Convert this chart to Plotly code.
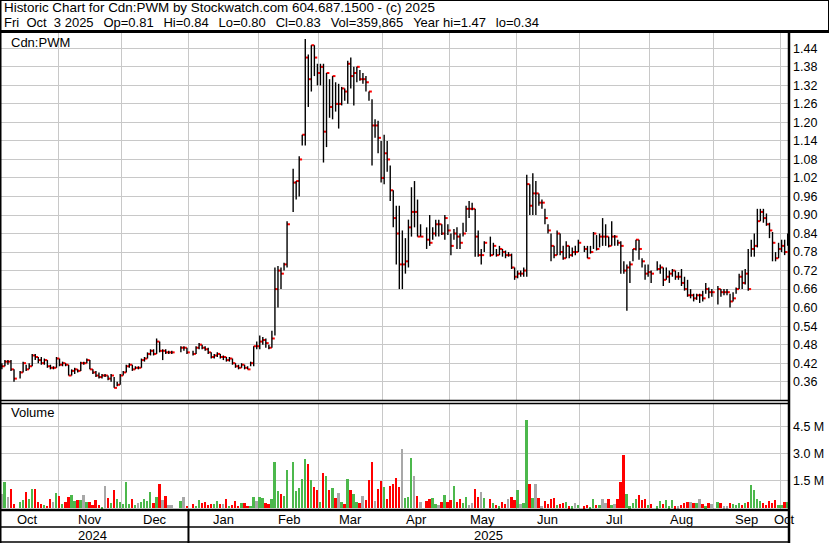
import pandas as pd
import plotly.graph_objects as go

# ---------------- data (one slot per weekday, None = no trading) ----------------
start_date = "2024-10-04"
end_date = "2025-10-03"

close = [0.41,0.41,0.425,0.425,0.40,0.37,None,0.39,0.42,0.40,
         0.41,0.445,0.44,0.43,0.42,0.43,0.41,0.405,0.405,0.435,
         0.415,0.42,0.415,0.38,0.395,0.40,0.395,0.42,0.42,0.43,
         0.40,0.39,0.38,0.375,0.38,0.38,0.37,0.38,0.34,0.35,
         0.38,0.39,0.41,0.415,0.40,0.405,0.405,0.43,0.435,0.45,
         0.46,0.45,0.49,0.46,0.46,0.455,0.455,0.455,None,None,
         0.47,0.47,0.455,None,0.45,0.47,0.48,0.47,0.465,0.455,
         0.44,0.445,0.45,0.44,0.44,0.43,0.435,0.42,0.41,0.405,
         0.415,0.405,0.40,0.42,0.475,0.475,0.49,0.495,0.485,0.47,
         0.50,0.66,0.72,0.71,0.74,0.87,None,1.005,1.01,1.08,
         1.16,1.41,1.34,1.45,1.41,1.36,1.38,1.17,1.36,1.25,
         1.35,1.26,1.26,1.31,1.30,1.39,1.35,1.36,1.38,1.34,
         1.34,1.33,1.30,1.19,1.19,1.15,1.02,1.10,1.08,0.98,
         0.89,0.84,0.74,0.74,0.75,0.86,0.91,0.91,0.83,0.83,
         None,0.82,0.81,0.84,0.87,0.87,0.84,0.89,0.85,0.80,
         0.84,0.83,0.81,0.84,0.92,0.92,0.92,0.83,0.77,0.77,
         0.81,None,0.77,0.80,0.77,0.79,0.78,0.77,0.77,0.73,
         0.70,0.71,0.71,0.72,1.00,0.93,0.97,0.97,0.94,0.94,
         0.89,0.85,0.80,0.77,0.84,0.78,0.76,0.80,0.77,0.78,
         0.78,0.81,None,0.79,0.76,0.78,0.84,0.79,0.83,0.83,
         0.83,0.80,0.83,0.83,0.81,0.80,0.72,0.73,0.74,0.79,
         0.82,0.79,0.75,0.71,0.715,0.71,None,0.725,0.73,0.69,
         0.70,0.71,0.72,0.70,0.70,0.68,0.66,0.64,0.64,0.63,
         0.64,0.64,0.63,0.66,0.65,0.65,None,0.66,0.65,0.65,
         0.65,0.62,0.63,0.66,0.70,0.68,0.71,0.66,0.79,0.80,
         0.88,0.91,0.89,0.87,0.85,0.81,0.76,0.79,0.80,0.78,
         0.83]

high = [0.42,0.42,0.43,0.43,0.43,0.40,None,0.395,0.425,0.415,
        0.42,0.45,0.45,0.44,0.44,0.435,0.43,0.415,0.41,0.44,
        0.435,0.425,0.42,0.415,0.40,0.405,0.40,0.425,0.425,0.435,
        0.43,0.40,0.395,0.39,0.385,0.385,0.38,0.385,0.375,0.36,
        0.385,0.395,0.415,0.42,0.415,0.41,0.41,0.435,0.44,0.455,
        0.465,0.465,0.50,0.49,0.465,0.465,0.46,0.46,None,None,
        0.475,0.475,0.47,None,0.46,0.475,0.485,0.48,0.475,0.47,
        0.455,0.45,0.455,0.45,0.445,0.44,0.44,0.435,0.42,0.415,
        0.42,0.415,0.41,0.425,0.475,0.49,0.51,0.505,0.50,0.48,
        0.525,0.73,0.735,0.73,0.745,0.88,None,1.05,1.01,1.09,
        1.16,1.47,1.42,1.45,1.45,1.39,1.39,1.39,1.36,1.34,
        1.35,1.33,1.325,1.315,1.31,1.40,1.41,1.38,1.38,1.37,
        1.36,1.35,1.30,1.275,1.21,1.205,1.14,1.16,1.14,1.06,
        0.98,0.93,0.93,0.85,0.825,0.885,0.99,1.01,0.95,0.87,
        None,0.86,0.90,0.86,0.885,0.885,0.87,0.90,0.87,0.84,
        0.855,0.86,0.84,0.875,0.93,0.945,0.94,0.92,0.85,0.79,
        0.815,None,0.83,0.81,0.79,0.80,0.79,0.785,0.78,0.775,
        0.73,0.72,0.72,0.73,1.03,1.00,1.035,1.01,0.97,0.95,
        0.92,0.87,0.84,0.80,0.85,0.84,0.80,0.815,0.80,0.795,
        0.80,0.82,None,0.80,0.80,0.80,0.845,0.835,0.84,0.89,
        0.87,0.83,0.88,0.835,0.82,0.815,0.75,0.74,0.75,0.79,
        0.82,0.82,0.76,0.74,0.74,0.72,None,0.75,0.74,0.73,
        0.73,0.72,0.725,0.72,0.715,0.725,0.70,0.69,0.66,0.645,
        0.645,0.645,0.655,0.68,0.665,0.66,None,0.67,0.66,0.66,
        0.66,0.645,0.65,0.665,0.71,0.72,0.725,0.79,0.82,0.84,
        0.92,0.92,0.92,0.905,0.875,0.845,0.78,0.81,0.82,0.82,
        0.84]

low = [0.40,0.40,0.41,0.415,0.395,0.36,None,0.37,0.39,0.395,
       0.40,0.41,0.43,0.42,0.415,0.415,0.405,0.40,0.40,0.405,
       0.41,0.41,0.41,0.38,0.38,0.385,0.39,0.395,0.415,0.42,
       0.40,0.385,0.375,0.37,0.37,0.375,0.365,0.36,0.34,0.345,
       0.35,0.38,0.39,0.405,0.395,0.40,0.40,0.405,0.425,0.435,
       0.445,0.445,0.45,0.455,0.43,0.45,0.45,0.45,None,None,
       0.455,0.46,0.45,None,0.445,0.45,0.465,0.465,0.46,0.45,
       0.435,0.435,0.44,0.435,0.43,0.425,0.425,0.415,0.405,0.40,
       0.405,0.40,0.40,0.41,0.41,0.465,0.465,0.48,0.47,0.465,
       0.47,0.51,0.60,0.66,0.72,0.73,None,0.91,0.95,0.96,
       1.125,1.125,1.25,1.30,1.35,1.32,1.32,1.07,1.12,1.215,
       1.21,1.235,1.18,1.255,1.27,1.26,1.31,1.255,1.33,1.335,
       1.325,1.30,1.27,1.06,1.15,1.10,1.005,1.00,1.04,0.945,
       0.86,0.74,0.66,0.66,0.71,0.73,0.83,0.86,0.83,0.83,
       None,0.79,0.80,0.82,0.83,0.83,0.835,0.82,0.835,0.77,
       0.82,0.79,0.79,0.83,0.845,0.89,0.915,0.765,0.765,0.74,
       0.78,None,0.765,0.77,0.765,0.77,0.765,0.76,0.765,0.725,
       0.69,0.695,0.70,0.70,0.70,0.90,0.90,0.90,0.93,0.92,
       0.87,0.84,0.75,0.76,0.77,0.77,0.755,0.76,0.76,0.765,
       0.77,0.78,None,0.78,0.76,0.775,0.79,0.785,0.795,0.80,
       0.80,0.795,0.80,0.80,0.80,0.71,0.71,0.59,0.68,0.75,
       0.785,0.755,0.73,0.69,0.70,0.68,None,0.72,0.71,0.67,
       0.69,0.68,0.70,0.69,0.69,0.67,0.655,0.635,0.63,0.62,
       0.625,0.615,0.62,0.645,0.63,0.635,None,0.61,0.635,0.64,
       0.64,0.60,0.62,0.645,0.66,0.66,0.675,0.655,0.765,0.765,
       0.795,0.88,0.875,0.865,0.825,0.75,0.75,0.76,0.78,0.77,
       0.80]

volume_m = [0.70,0.78,1.44,0.59,1.06,0.22,None,0.35,0.44,0.89,
            0.50,1.06,1.06,0.33,0.22,0.15,0.12,0.50,0.33,0.83,
            0.67,0.22,0.33,0.61,0.72,0.39,0.44,0.44,0.72,0.33,
            0.33,0.17,0.44,0.17,0.06,1.22,0.56,0.28,1.00,0.50,
            0.33,0.22,1.44,0.22,0.50,0.17,0.28,0.33,0.50,0.39,
            0.89,0.28,0.61,1.33,0.44,0.67,0.17,0.17,None,None,
            0.39,0.61,0.12,None,0.22,0.12,0.44,0.28,0.33,0.17,
            0.22,0.22,0.39,0.22,0.22,0.50,0.12,0.17,0.39,0.12,
            0.28,0.28,0.12,0.12,0.61,0.39,0.61,0.56,0.28,0.22,
            0.50,2.56,0.94,0.78,0.67,2.11,None,2.56,0.94,1.11,
            1.61,2.72,2.44,1.56,1.17,1.00,0.33,1.94,1.78,1.00,
            1.11,0.56,0.83,0.33,0.22,1.61,1.00,0.78,0.33,0.28,
            0.67,0.44,1.56,2.56,0.39,1.06,1.50,1.17,0.50,1.22,
            1.33,1.67,1.17,3.28,0.56,0.61,2.78,1.78,0.67,0.33,
            None,0.39,0.50,0.56,0.22,0.17,0.33,0.72,0.33,0.44,
            1.22,0.33,0.50,0.28,0.61,0.17,0.28,1.06,0.61,0.89,
            0.56,None,0.50,0.28,0.17,0.11,0.33,0.22,0.50,0.61,
            0.44,1.00,0.22,0.28,4.90,1.33,0.56,1.33,0.56,0.11,
            0.39,0.22,0.50,0.56,0.17,0.22,0.28,0.33,0.11,0.11,
            0.28,0.17,None,0.11,0.17,0.06,0.50,0.17,0.17,0.50,
            0.28,0.50,0.17,0.22,0.50,1.44,2.94,0.78,0.11,0.28,
            0.50,0.72,0.44,0.50,0.17,0.22,None,0.11,0.39,0.22,
            0.44,0.11,0.44,0.11,0.11,0.17,0.28,0.33,0.33,0.28,
            0.28,0.50,0.22,0.11,0.28,0.25,None,0.33,0.28,0.11,
            0.11,0.28,0.22,0.17,0.28,0.17,0.28,0.33,1.28,1.00,
            0.50,0.39,0.28,0.17,0.39,0.28,0.44,0.17,0.17,0.33,
            0.36]

price_ticks = [0.36,0.42,0.48,0.54,0.60,0.66,0.72,0.78,0.84,0.90,
               0.96,1.02,1.08,1.14,1.20,1.26,1.32,1.38,1.44]
volume_ticks = [1.5, 3.0, 4.5]
volume_tick_labels = ["1.5 M", "3.0 M", "4.5 M"]

title_line1 = "Historic Chart for Cdn:PWM by Stockwatch.com 604.687.1500 - (c) 2025"
title_fields = ["Fri  Oct  3 2025", "Op=0.81", "Hi=0.84", "Lo=0.80", "Cl=0.83",
                "Vol=359,865", "Year hi=1.47", "lo=0.34"]
symbol_label = "Cdn:PWM"

# ---------------- derived ----------------
dates = pd.bdate_range(start_date, end_date)
n = len(dates)
idx = list(range(n))

W, H = 830, 543
def px(x):
    return x / W
def py(y):
    return 1 - y / H

vx, vy, cx, cy = [], [], [], []
for i in idx:
    if close[i] is None:
        continue
    vx += [i, i, None]
    vy += [low[i], high[i], None]
    cx += [i, i + 0.95, None]
    cy += [close[i], close[i], None]

GREEN, RED, GRAY = "#4cb84c", "#ff0000", "#a8a8a8"
vcol = []
prev = None
for i in idx:
    c = close[i]
    if c is None:
        vcol.append(GRAY)
        continue
    if prev is None or abs(c - prev) < 1e-9:
        vcol.append(GRAY)
    elif c > prev:
        vcol.append(GREEN)
    else:
        vcol.append(RED)
    prev = c

months = [(d.year, d.month) for d in dates]
bounds, mlabels = [], []
start = 0
for i in range(1, n + 1):
    if i == n or months[i] != months[i - 1]:
        mlabels.append(((start + i - 1) / 2, dates[start].strftime("%b")))
        if i < n:
            bounds.append(i - 0.5)
        start = i
years = [d.year for d in dates]
ylabels, ybounds = [], []
start = 0
for i in range(1, n + 1):
    if i == n or years[i] != years[i - 1]:
        ylabels.append(((start + i - 1) / 2, str(years[start])))
        if i < n:
            ybounds.append(i - 0.5)
        start = i

XR = [1.16 / 3.034, (788 + 1.16) / 3.034]
GRID = "#c8c8c8"
FONT = "Liberation Sans"

fig = go.Figure()
fig.add_trace(go.Scatter(x=cx, y=cy, mode="lines", line=dict(color=RED, width=2),
                         hoverinfo="skip", xaxis="x", yaxis="y"))
fig.add_trace(go.Scatter(x=vx, y=vy, mode="lines", line=dict(color="black", width=1.4),
                         hoverinfo="skip", xaxis="x", yaxis="y"))
fig.add_trace(go.Bar(x=idx, y=volume_m, marker=dict(color=vcol, line=dict(width=0)),
                     width=0.62, hoverinfo="skip", xaxis="x2", yaxis="y2"))

ydom_price = [py(400), py(33)]
ydom_vol = [py(509), py(403)]
xdom = [0, px(788)]

fig.update_layout(
    width=W, height=H, margin=dict(l=0, r=0, t=0, b=0),
    paper_bgcolor="white", plot_bgcolor="white", showlegend=False,
    font=dict(family=FONT, size=13, color="black"),
    xaxis=dict(domain=xdom, range=XR, tickvals=bounds, showticklabels=False,
               showgrid=True, gridcolor=GRID, gridwidth=1, zeroline=False,
               ticks="", showline=False, anchor="y"),
    yaxis=dict(domain=ydom_price, range=[0.3007, 1.4896], side="right", anchor="x",
               tickvals=price_ticks, ticktext=["%.2f" % v for v in price_ticks],
               showgrid=True, gridcolor=GRID, gridwidth=1, zeroline=False, ticks="",
               ticklabelstandoff=4,
               tickfont=dict(family=FONT, size=12.5, color="black")),
    xaxis2=dict(domain=xdom, range=XR, tickvals=bounds, showticklabels=False,
                showgrid=True, gridcolor=GRID, gridwidth=1, zeroline=False,
                ticks="", anchor="y2", matches="x"),
    yaxis2=dict(domain=ydom_vol, range=[-0.055, 5.83], side="right", anchor="x2",
                tickvals=volume_ticks, ticktext=volume_tick_labels,
                showgrid=True, gridcolor=GRID, gridwidth=1, zeroline=False, ticks="",
                ticklabelstandoff=4,
                tickfont=dict(family=FONT, size=12.5, color="black")),
    bargap=0,
)

NB = "\u00a0"
sep = NB + NB + "\u2009"
line2 = sep.join(f.replace(" ", NB) for f in title_fields)

ann = []
ann.append(dict(x=px(1.5), y=py(8), xref="paper", yref="paper", text=title_line1,
                showarrow=False, xanchor="left", yanchor="middle",
                font=dict(family=FONT, size=13.4)))
ann.append(dict(x=px(1.5), y=py(22), xref="paper", yref="paper", text=line2,
                showarrow=False, xanchor="left", yanchor="middle",
                font=dict(family=FONT, size=13)))
ann.append(dict(x=px(9), y=py(42), xref="paper", yref="paper", text=symbol_label,
                showarrow=False, xanchor="left", yanchor="middle",
                font=dict(family=FONT, size=13)))
ann.append(dict(x=px(9), y=py(413), xref="paper", yref="paper", text="Volume",
                showarrow=False, xanchor="left", yanchor="middle",
                font=dict(family=FONT, size=13)))
for xm, lab in mlabels:
    ann.append(dict(x=xm, y=py(519), xref="x", yref="paper", text=lab,
                    showarrow=False, xanchor="center", yanchor="middle",
                    font=dict(family=FONT, size=13)))
for xm, lab in ylabels:
    ann.append(dict(x=xm, y=py(535), xref="x", yref="paper", text=lab,
                    showarrow=False, xanchor="center", yanchor="middle",
                    font=dict(family=FONT, size=13)))
fig.update_layout(annotations=ann)

shapes = []
def hline(y, x0, x1, w):
    shapes.append(dict(type="line", xref="paper", yref="paper", x0=px(x0), x1=px(x1),
                       y0=py(y), y1=py(y), line=dict(color="black", width=w)))
def vline(x, y0, y1, w):
    shapes.append(dict(type="line", xref="paper", yref="paper", x0=px(x), x1=px(x),
                       y0=py(y0), y1=py(y1), line=dict(color="black", width=w)))

hline(0.5, 0, 829, 1)
vline(828.5, 0, 32, 1)
hline(31.5, 0, 829, 3)
vline(0.5, 0, 543, 2)
vline(789, 31, 543, 2.5)
hline(400.5, 0, 789, 1.5)
hline(403.5, 0, 789, 1.5)
hline(510, 0, 789, 2.5)
hline(527, 0, 789, 1.5)
hline(542, 0, 789, 1.5)
for b in ybounds:
    shapes.append(dict(type="line", xref="x", yref="paper", x0=b, x1=b,
                       y0=py(543), y1=py(509), line=dict(color="black", width=2)))
fig.update_layout(shapes=shapes)

fig.write_html("out.html", config={"displayModeBar": False},
               post_script="document.body.style.margin='0';document.body.style.padding='0';")
